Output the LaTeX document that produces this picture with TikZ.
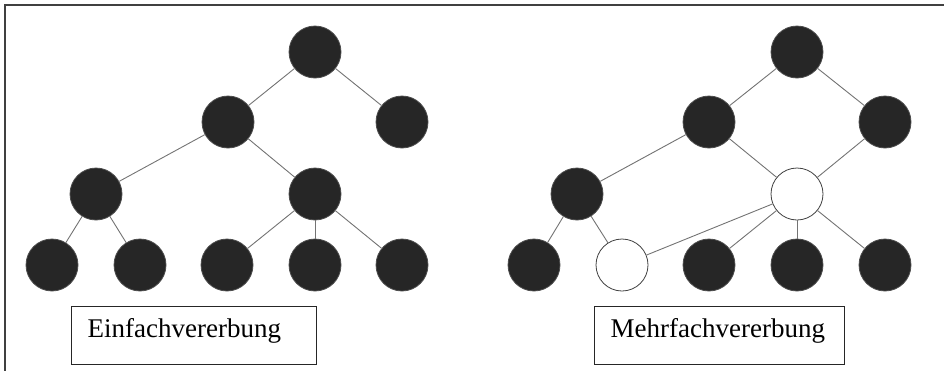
\documentclass[tikz,border=0pt]{standalone}
\usepackage{fontspec}
\setmainfont{Liberation Serif}
\usetikzlibrary{positioning}

\begin{document}
\begin{tikzpicture}[
    x=1pt, y=-1pt,
    knoten/.style={circle, draw=black!70, fill=black!85, line width=0.8pt, minimum size=52pt, inner sep=0pt},
    leer/.style={knoten, draw=black!75, fill=white},
    kante/.style={draw=black!55, line width=0.9pt},
    titel/.style={draw=black!85, line width=1.4pt, anchor=north west, align=left,
        inner xsep=16pt, inner ysep=0pt, text height=31pt, text depth=27pt,
        font=\fontsize{27}{30}\selectfont},
]

\useasboundingbox (0,0) rectangle (944,370);

% Rahmen (rechts und unten abgeschnitten)
\begin{scope}
    \clip (0,0) rectangle (944,370);
    \draw[black!75, line width=1.8pt] (5,5) rectangle (960,390);
\end{scope}

% Einfachvererbung
\node[knoten] (lw)  at (315,52)  {};
\node[knoten] (la)  at (228,122) {};
\node[knoten] (lb)  at (402,122) {};
\node[knoten] (laa) at (96,194)  {};
\node[knoten] (lab) at (315,194) {};
\node[knoten] (l1)  at (52,265)  {};
\node[knoten] (l2)  at (140,265) {};
\node[knoten] (l3)  at (227,265) {};
\node[knoten] (l4)  at (315,265) {};
\node[knoten] (l5)  at (402,265) {};

\foreach \a/\b in {lw/la, lw/lb, la/laa, la/lab, laa/l1, laa/l2, lab/l3, lab/l4, lab/l5}
    \draw[kante] (\a) -- (\b);

% Mehrfachvererbung
\node[knoten] (rw)  at (797,52)  {};
\node[knoten] (ra)  at (709,122) {};
\node[knoten] (rb)  at (885,122) {};
\node[knoten] (raa) at (577,194) {};
\node[leer]   (rab) at (797,194) {};
\node[knoten] (r1)  at (534,265) {};
\node[leer]   (r2)  at (622,265) {};
\node[knoten] (r3)  at (709,265) {};
\node[knoten] (r4)  at (797,265) {};
\node[knoten] (r5)  at (885,265) {};

\foreach \a/\b in {rw/ra, rw/rb, ra/raa, ra/rab, rb/rab, raa/r1, raa/r2, rab/r2, rab/r3, rab/r4, rab/r5}
    \draw[kante] (\a) -- (\b);

% Beschriftungen
\node[titel, text width=213pt] (einfach) at (71,306)  {Einfachvererbung};
\node[titel, text width=218pt] (mehrfach) at (594,306) {Mehrfachvererbung};

\end{tikzpicture}
\end{document}
